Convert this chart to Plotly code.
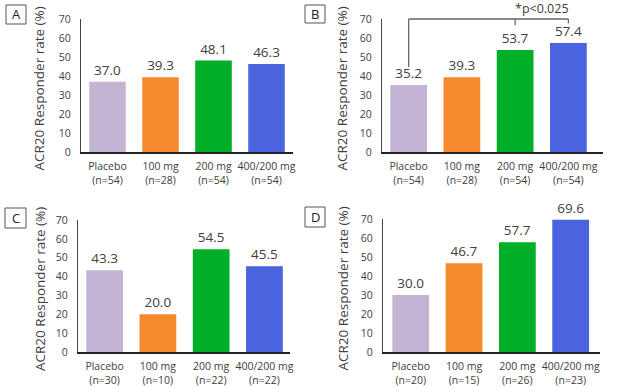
import plotly.graph_objects as go

# ---- data ----
groups = ["Placebo", "100 mg", "200 mg", "400/200 mg"]
n_A = [54, 28, 54, 54]
n_B = [54, 28, 54, 54]
n_C = [30, 10, 22, 22]
n_D = [20, 15, 26, 23]
vals_A = [37.0, 39.3, 48.1, 46.3]
vals_B = [35.2, 39.3, 53.7, 57.4]
vals_C = [43.3, 20.0, 54.5, 45.5]
vals_D = [30.0, 46.7, 57.7, 69.6]
panel_letters = ["A", "B", "C", "D"]
y_ticks = [0, 10, 20, 30, 40, 50, 60, 70]
y_title = "ACR20 Responder rate (%)"
sig_text = "*p<0.025"

colors = ["#C4B4D3", "#F68B2E", "#00AF27", "#4964DE"]
TXT = "#404040"
FONT = "Open Sans"
W, H = 623, 388


def px_x(v):
    return v / W


def px_y(v):
    return 1 - v / H


# panel geometry (pixels): x0, x1, ytop, ybottom, xrange
panels = [
    dict(x0=81, x1=293, yt=19, yb=152, xr=[-0.5, 3.5], title_x=39, box=(6, 5, 26, 24)),
    dict(x0=382, x1=603, yt=19, yb=152, xr=[-0.5, 3.65], title_x=342, box=(305, 5, 325, 23)),
    dict(x0=78, x1=290, yt=220, yb=352, xr=[-0.5, 3.48], title_x=40, box=(5, 208, 26, 228)),
    dict(x0=383, x1=600, yt=219, yb=352, xr=[-0.52, 3.55], title_x=342, box=(305, 207, 325, 227)),
]
all_vals = [vals_A, vals_B, vals_C, vals_D]
all_n = [n_A, n_B, n_C, n_D]

fig = go.Figure()
layout = dict(
    width=W, height=H, margin=dict(l=0, r=0, t=0, b=0, autoexpand=False),
    paper_bgcolor="white", plot_bgcolor="white", showlegend=False,
    font=dict(family=FONT, color=TXT),
)
annotations = []
shapes = []

for i, (p, vals, ns) in enumerate(zip(panels, all_vals, all_n)):
    k = "" if i == 0 else str(i + 1)
    cats = [f"{g}<br>(n={n})" for g, n in zip(groups, ns)]
    fig.add_trace(go.Bar(
        x=cats, y=vals, xaxis="x" + k, yaxis="y" + k,
        marker=dict(color=colors, line=dict(width=0)),
        width=0.69,
        text=[f"{v:.1f}" for v in vals], textposition="outside",
        textfont=dict(size=13.5, color=TXT, family=FONT),
        cliponaxis=False, hoverinfo="skip",
    ))
    layout["xaxis" + k] = dict(
        domain=[px_x(p["x0"]), px_x(p["x1"])], anchor="y" + k,
        type="category", range=p["xr"], showline=True, linecolor="#222",
        linewidth=1.5, ticks="", showgrid=False, zeroline=False, automargin=False,
        tickfont=dict(size=10.5, color=TXT, family=FONT), tickangle=0,
        ticklabelstandoff=4,
        categoryorder="array", categoryarray=cats,
    )
    layout["yaxis" + k] = dict(
        domain=[px_y(p["yb"]), px_y(p["yt"])], anchor="x" + k,
        range=[0, 70], tickvals=y_ticks, showline=True, linecolor="#444",
        linewidth=1.2, ticks="", showgrid=False, zeroline=False, automargin=False,
        tickfont=dict(size=10.5, color=TXT, family=FONT), ticklabelstandoff=7,
    )
    annotations.append(dict(
        text=y_title, xref="paper", yref="paper", textangle=-90,
        x=px_x(p["title_x"]), y=px_y((p["yt"] + p["yb"]) / 2 + 3),
        showarrow=False, font=dict(size=13.5, color=TXT, family=FONT),
        xanchor="center", yanchor="middle",
    ))
    bx0, by0, bx1, by1 = p["box"]
    shapes.append(dict(type="rect", xref="paper", yref="paper",
                       x0=px_x(bx0), x1=px_x(bx1), y0=px_y(by1), y1=px_y(by0),
                       line=dict(color="#555", width=1), fillcolor="white"))
    annotations.append(dict(
        text=panel_letters[i], xref="paper", yref="paper",
        x=px_x((bx0 + bx1) / 2), y=px_y((by0 + by1) / 2),
        showarrow=False, font=dict(size=13, color="#222", family=FONT),
        xanchor="center", yanchor="middle",
    ))

# significance bracket on panel B (categories 0, 2, 3)
bracket_y = 70.0
line_style = dict(color="#666", width=1.3)


def yd(v):
    return v / 70.0


shapes += [
    dict(type="line", xref="x2", yref="y2 domain", x0=0, x1=3,
         y0=yd(bracket_y), y1=yd(bracket_y), line=line_style),
    dict(type="line", xref="x2", yref="y2 domain", x0=0, x1=0,
         y0=yd(bracket_y), y1=yd(vals_B[0] + 9.5), line=line_style),
    dict(type="line", xref="x2", yref="y2 domain", x0=2, x1=2,
         y0=yd(bracket_y), y1=yd(bracket_y - 3.3), line=line_style),
    dict(type="line", xref="x2", yref="y2 domain", x0=3, x1=3,
         y0=yd(bracket_y), y1=yd(bracket_y - 2.3), line=line_style),
]
annotations.append(dict(
    text=sig_text, xref="x2", yref="y2 domain", x=2.5, y=yd(bracket_y + 5.6),
    showarrow=False, font=dict(size=12.5, color=TXT, family=FONT),
    xanchor="center", yanchor="middle",
))

layout["annotations"] = annotations
layout["shapes"] = shapes
fig.update_layout(**layout)
fig.write_html(
    "out.html",
    config={"displayModeBar": False},
    post_script="document.body.style.margin='0';document.body.style.overflow='hidden';",
)
